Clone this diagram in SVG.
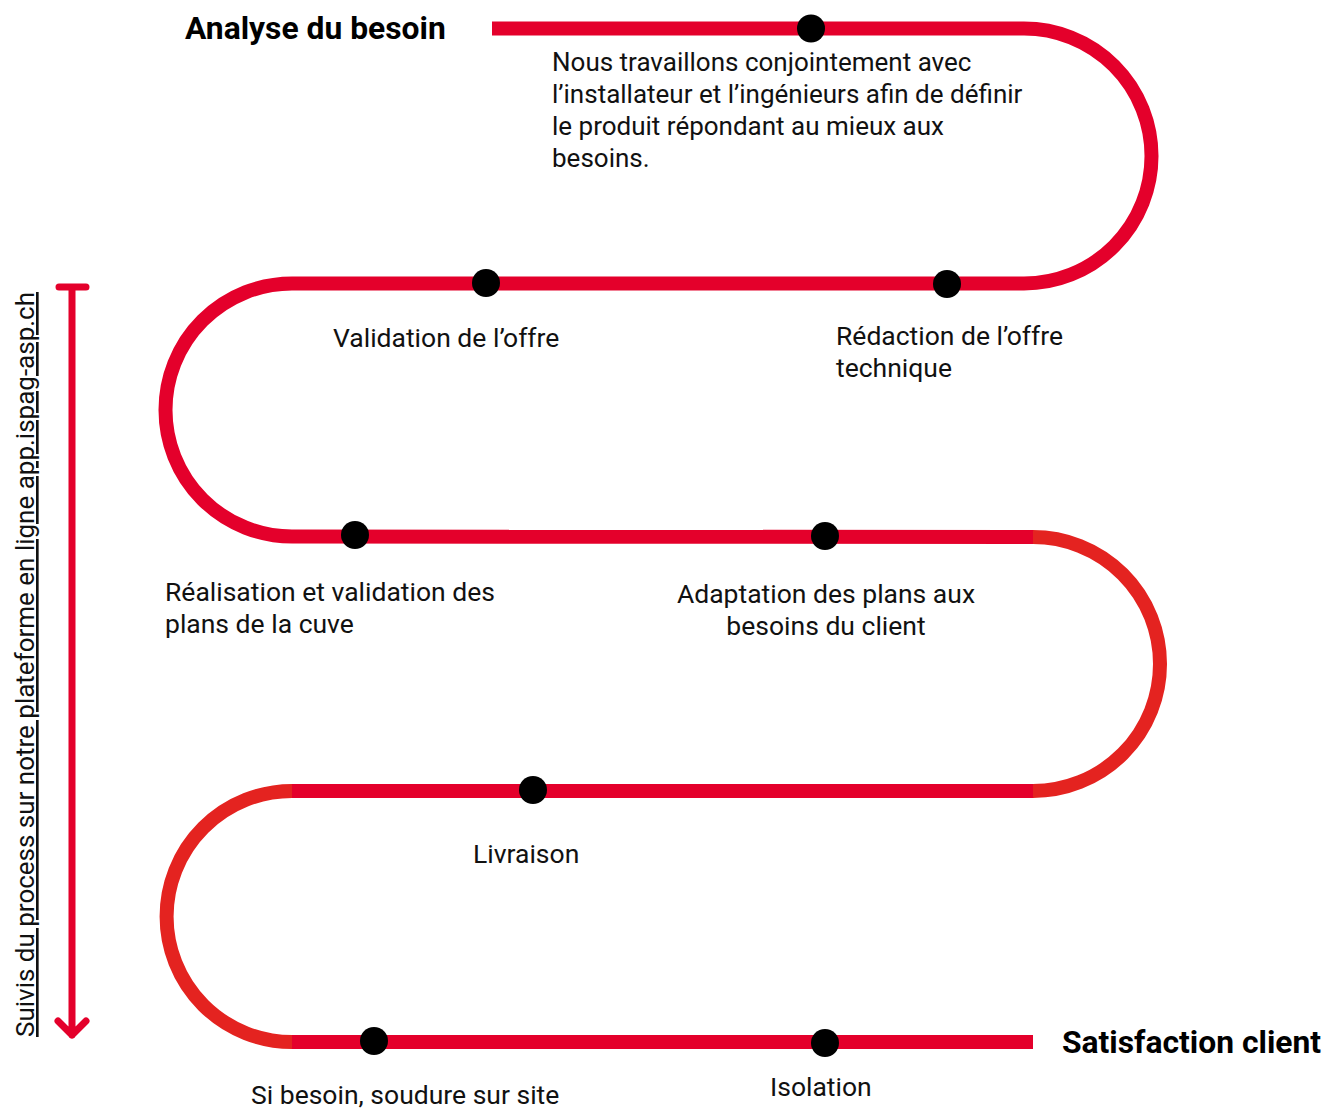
<svg xmlns="http://www.w3.org/2000/svg" width="1325" height="1109" viewBox="0 0 1325 1109">
<style>
.trk{fill:none;stroke:#e4002b;stroke-width:14;stroke-linecap:butt}
.trk2{fill:none;stroke:#e42320;stroke-width:14;stroke-linecap:butt}
.dot{fill:#000}
.lbl{font-family:Roboto,"Liberation Sans",sans-serif;font-size:26.5px;fill:#111}
.body{font-size:26px}
.ttl{font-family:Roboto,"Liberation Sans",sans-serif;font-size:31.8px;font-weight:bold;fill:#000}
.arr{fill:none;stroke:#e4002b;stroke-width:7;stroke-linecap:round;stroke-linejoin:round}
</style>
<rect width="1325" height="1109" fill="#fff"/>
<g id="connectors">
  <path class="trk" d="M492 28.5 L1024 28.5"/>
  <path class="trk" d="M1024 28.5 A127.5 127.5 0 0 1 1024 283.5"/>
  <path class="trk" d="M1024 283.5 L292 283.5"/>
  <path class="trk" d="M292 283.5 A126.5 126.5 0 0 0 292 536.5"/>
  <path class="trk" d="M292 536.5 L1033 537"/>
  <path class="trk2" d="M1033 537 A127 127 0 0 1 1033 791"/>
  <path class="trk" d="M1033 791 L292 791"/>
  <path class="trk2" d="M292 791 A125.5 125.5 0 0 0 292 1042"/>
  <path class="trk" d="M292 1042 L1033 1042"/>
</g>
<g id="start">
  <text class="ttl" x="185" y="39">Analyse du besoin</text>
</g>
<g id="step-analyse">
  <circle class="dot" cx="811" cy="28.5" r="14"/>
  <text class="lbl body" x="552" y="71">Nous travaillons conjointement avec</text>
  <text class="lbl body" x="552" y="103">l’installateur et l’ingénieurs afin de définir</text>
  <text class="lbl body" x="552" y="135">le produit répondant au mieux aux</text>
  <text class="lbl body" x="552" y="167">besoins.</text>
</g>
<g id="step-redaction">
  <circle class="dot" cx="947" cy="284" r="14"/>
  <text class="lbl" x="836" y="345">Rédaction de l’offre</text>
  <text class="lbl" x="836" y="377">technique</text>
</g>
<g id="step-validation">
  <circle class="dot" cx="486" cy="283" r="14"/>
  <text class="lbl" x="333" y="347">Validation de l’offre</text>
</g>
<g id="step-plans">
  <circle class="dot" cx="355" cy="535" r="14"/>
  <text class="lbl" x="165" y="601">Réalisation et validation des</text>
  <text class="lbl" x="165" y="633">plans de la cuve</text>
</g>
<g id="step-adaptation">
  <circle class="dot" cx="825" cy="536" r="14"/>
  <text class="lbl" x="826" y="603" text-anchor="middle">Adaptation des plans aux</text>
  <text class="lbl" x="826" y="635" text-anchor="middle">besoins du client</text>
</g>
<g id="step-livraison">
  <circle class="dot" cx="533" cy="790" r="14"/>
  <text class="lbl" x="473" y="863">Livraison</text>
</g>
<g id="step-soudure">
  <circle class="dot" cx="374" cy="1041" r="14"/>
  <text class="lbl" x="251" y="1104">Si besoin, soudure sur site</text>
</g>
<g id="step-isolation">
  <circle class="dot" cx="825" cy="1043" r="14"/>
  <text class="lbl" x="770" y="1096">Isolation</text>
</g>
<g id="end">
  <text class="ttl" x="1062" y="1053">Satisfaction client</text>
</g>
<g id="follow-arrow">
  <path class="arr" d="M59 287 L86 287 M72 287 L72 1035 M58 1021 L72 1035 L86 1021"/>
  <text class="lbl" transform="translate(34 1037) rotate(-90)" x="0" y="0" text-decoration="underline" textLength="745" lengthAdjust="spacingAndGlyphs">Suivis du process sur notre plateforme en ligne app.ispag-asp.ch</text>
</g>
</svg>
